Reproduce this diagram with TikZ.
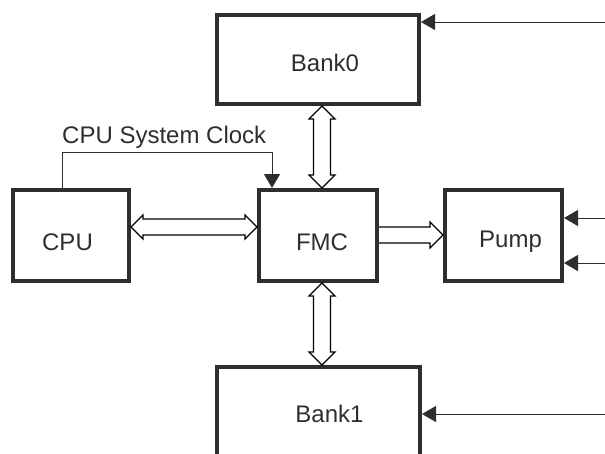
\documentclass[tikz,border=0pt]{standalone}
\usepackage{fontspec}
\setmainfont{Liberation Sans}
\usetikzlibrary{arrows.meta,calc}
\newcommand\boxtxt[2]{\raisebox{-#1}[0pt][0pt]{#2}}
\begin{document}
\begin{tikzpicture}[x=1pt,y=-1pt,
  box/.style={draw=black!82, line width=4pt, rectangle, inner sep=0pt,
    font=\fontsize{24}{28}\selectfont, text=black!82},
  sig/.style={line width=1pt, draw=black!82,
    -{Triangle[length=14pt,width=16pt,fill=black!82]}},
  hollow/.style={draw=black, line width=1.2pt, fill=white, line join=miter}]
\useasboundingbox (0,0) rectangle (605,453);

\node[box, minimum width=202pt, minimum height=89pt] (bank0) at (318,59.5) {\boxtxt{11.6pt}{\hspace*{14pt}Bank0}};
\node[box, minimum width=116pt, minimum height=91pt] (cpu) at (71,235.5) {\boxtxt{14.6pt}{CPU\hspace*{7pt}}};
\node[box, minimum width=118pt, minimum height=91pt] (fmc) at (318,235.5) {\boxtxt{15.1pt}{\hspace*{8pt}FMC}};
\node[box, minimum width=117pt, minimum height=91pt] (pump) at (503.5,235.5) {\boxtxt{11.6pt}{\hspace*{14pt}Pump}};
\node[box, minimum width=203pt, minimum height=93pt] (bank1) at (318.5,413.5) {\boxtxt{8.6pt}{\hspace*{22pt}Bank1}};

\node[anchor=base west, inner sep=0pt, font=\fontsize{24}{28}\selectfont, text=black!82] (clk) at (62,143) {CPU System Clock};

% clock line
\draw[sig] ([xshift=-9pt]cpu.north) |- ([xshift=-46pt,yshift=36pt]fmc.north) -- ([xshift=-46pt]fmc.north);

% right inputs
\coordinate (r0) at (606,22);
\coordinate (r1) at (606,218);
\coordinate (r2) at (606,263);
\coordinate (r3) at (606,414);
\draw[sig] (r0) -- (bank0.east |- r0);
\draw[sig] (r1) -- (pump.east |- r1);
\draw[sig] (r2) -- (pump.east |- r2);
\draw[sig] (r3) -- (bank1.east |- r3);

% helper coordinates
\coordinate (yh) at (0,227);
\coordinate (xv) at (322,0);
\coordinate (yp) at (0,235);

% CPU <-> FMC
\coordinate (A) at (cpu.east |- yh);
\coordinate (B) at (fmc.west |- yh);
\draw[hollow] (A) -- ++(12,-12) -- ++(0,4) -- ($(B)+(-12,-8)$) -- ++(0,-4) -- (B)
  -- ++(-12,12) -- ++(0,-4) -- ($(A)+(12,8)$) -- ++(0,4) -- cycle;

% Bank0 <-> FMC
\coordinate (C) at (bank0.south -| xv);
\coordinate (D) at (fmc.north -| xv);
\draw[hollow] (C) -- ++(13,13) -- ++(-4.5,0) -- ($(D)+(8.5,-13)$) -- ++(4.5,0) -- (D)
  -- ++(-13,-13) -- ++(4.5,0) -- ($(C)+(-8.5,13)$) -- ++(-4.5,0) -- cycle;

% FMC <-> Bank1
\coordinate (E) at (fmc.south -| xv);
\coordinate (F) at (bank1.north -| xv);
\draw[hollow] (E) -- ++(13,13) -- ++(-4.5,0) -- ($(F)+(8.5,-13)$) -- ++(4.5,0) -- (F)
  -- ++(-13,-13) -- ++(4.5,0) -- ($(E)+(-8.5,13)$) -- ++(-4.5,0) -- cycle;

% FMC -> Pump
\coordinate (G) at (fmc.east |- yp);
\coordinate (H) at (pump.west |- yp);
\draw[hollow] ($(G)+(0,-8)$) -- ($(H)+(-13,-8)$) -- ++(0,-5) -- (H)
  -- ++(-13,13) -- ++(0,-5) -- ($(G)+(0,8)$);
\end{tikzpicture}
\end{document}
